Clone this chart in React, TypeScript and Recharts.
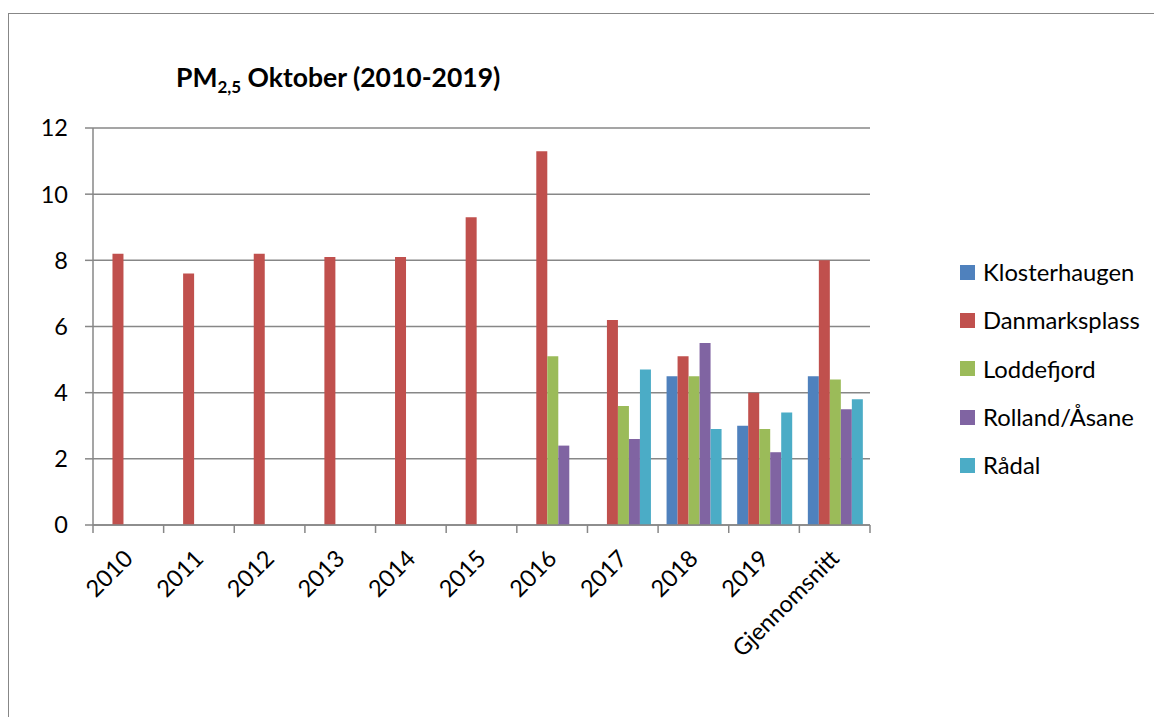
import { BarChart, Bar, XAxis, YAxis, CartesianGrid } from "recharts"

// PM2,5 monthly means for October, per station
const years = ["2010", "2011", "2012", "2013", "2014", "2015", "2016", "2017", "2018", "2019", "Gjennomsnitt"]
const klosterhaugen = [null, null, null, null, null, null, null, null, 4.5, 3.0, 4.5]
const danmarksplass = [8.2, 7.6, 8.2, 8.1, 8.1, 9.3, 11.3, 6.2, 5.1, 4.0, 8.0]
const loddefjord = [null, null, null, null, null, null, 5.1, 3.6, 4.5, 2.9, 4.4]
const rollandAsane = [null, null, null, null, null, null, 2.4, 2.6, 5.5, 2.2, 3.5]
const radal = [null, null, null, null, null, null, null, 4.7, 2.9, 3.4, 3.8]
const yTicks = [0, 2, 4, 6, 8, 10, 12]

const series = [
  { key: "klosterhaugen", name: "Klosterhaugen", color: "#4F81BD", values: klosterhaugen },
  { key: "danmarksplass", name: "Danmarksplass", color: "#C0504D", values: danmarksplass },
  { key: "loddefjord", name: "Loddefjord", color: "#9BBB59", values: loddefjord },
  { key: "rolland", name: "Rolland/Åsane", color: "#8064A2", values: rollandAsane },
  { key: "radal", name: "Rådal", color: "#4BACC6", values: radal },
]

const data = years.map((year, i) => {
  const row: Record<string, string | number | null> = { year }
  series.forEach((s) => (row[s.key] = s.values[i]))
  return row
})

const gridColor = "#878787"

// category label, rotated, plus tick marks on the category boundaries
function XTick(props: any) {
  const { x, y, payload, index, width } = props
  const half = payload.offset ? payload.offset : width / years.length / 2
  return (
    <g>
      <line x1={x - half} x2={x - half} y1={y} y2={y + 8} stroke={gridColor} strokeWidth={1.5} />
      {index === years.length - 1 && (
        <line x1={x + half} x2={x + half} y1={y} y2={y + 8} stroke={gridColor} strokeWidth={1.5} />
      )}
      <text
        x={x + 6}
        y={y + 35}
        textAnchor="end"
        fontSize={23.5}
        fill="#000"
        transform={`rotate(-45 ${x + 6} ${y + 35})`}
      >
        {payload.value}
      </text>
    </g>
  )
}

export default function App() {
  return (
    <div
      style={{
        position: "fixed",
        left: 0,
        top: 0,
        width: 1154,
        height: 717,
        overflow: "hidden",
        background: "#fff",
        fontFamily: "Lato, sans-serif",
      }}
    >
      <div
        style={{
          position: "absolute",
          left: 8,
          top: 13,
          width: 1200,
          height: 800,
          border: `1.5px solid ${gridColor}`,
        }}
      />
      <div
        style={{
          position: "absolute",
          left: 176,
          top: 62,
          fontSize: 26.5,
          fontWeight: 700,
          lineHeight: "30px",
          whiteSpace: "nowrap",
          color: "#000",
        }}
      >
        PM<sub style={{ fontSize: 17, verticalAlign: -6, lineHeight: 0 }}>2,5</sub> Oktober (2010-2019)
      </div>
      <div style={{ position: "absolute", left: 0, top: 0 }}>
        <BarChart
          width={1154}
          height={717}
          data={data}
          margin={{ top: 128, right: 284, left: 33, bottom: 92 }}
          barCategoryGap="12%"
          barGap={0}
        >
          <CartesianGrid vertical={false} stroke={gridColor} strokeWidth={1.5} />
          <XAxis
            dataKey="year"
            interval={0}
            height={100}
            tickSize={0}
            tickMargin={0}
            tickLine={false}
            axisLine={{ stroke: gridColor, strokeWidth: 1.5 }}
            tick={<XTick />}
          />
          <YAxis
            width={60}
            domain={[0, 12]}
            ticks={yTicks}
            interval={0}
            tickSize={8}
            tickMargin={17}
            tickLine={{ stroke: gridColor, strokeWidth: 1.5 }}
            axisLine={{ stroke: gridColor, strokeWidth: 1.5 }}
            tick={{ fontSize: 23.5, fill: "#000" }}
          />
          {series.map((s) => (
            <Bar key={s.key} dataKey={s.key} name={s.name} fill={s.color} isAnimationActive={false} />
          ))}
        </BarChart>
      </div>
      <div style={{ position: "absolute", left: 960, top: 248 }}>
        {series.map((s) => (
          <div key={s.key} style={{ display: "flex", alignItems: "center", height: 48.3 }}>
            <div style={{ width: 15, height: 15, background: s.color, marginRight: 8 }} />
            <span style={{ fontSize: 23.8, color: "#000", lineHeight: "30px" }}>{s.name}</span>
          </div>
        ))}
      </div>
    </div>
  )
}
